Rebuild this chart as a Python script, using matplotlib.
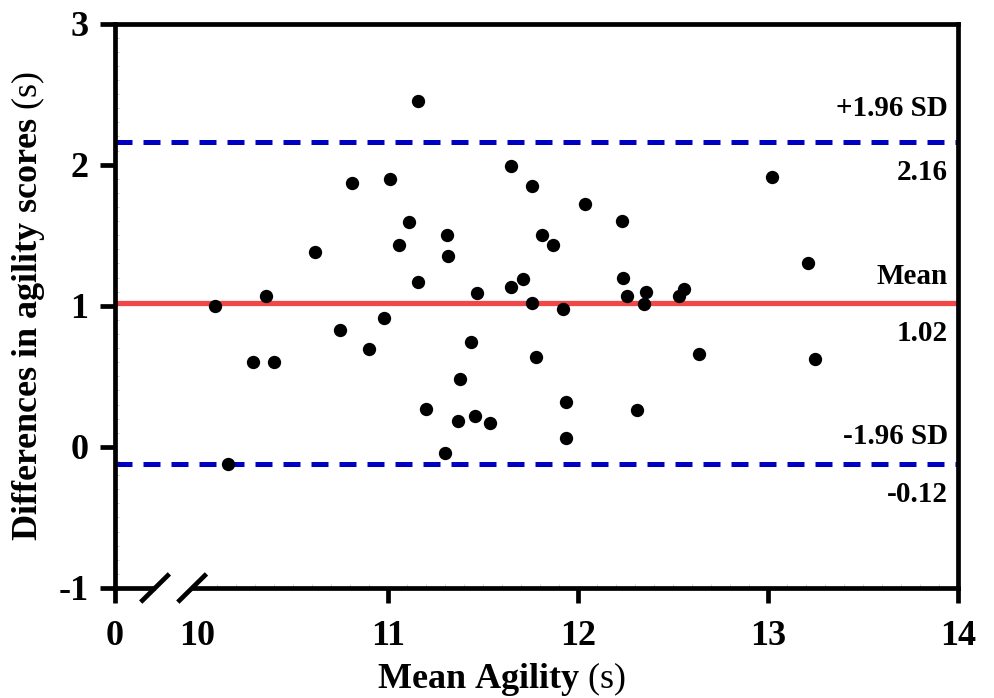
import numpy as np
import matplotlib
matplotlib.use("Agg")
import matplotlib.pyplot as plt
from matplotlib.ticker import FixedLocator, MultipleLocator
from matplotlib.lines import Line2D
from matplotlib.patches import Rectangle
import matplotlib.transforms as mtransforms

plt.rcParams['font.family'] = ['Liberation Serif', 'DejaVu Serif']
plt.rcParams['mathtext.fontset'] = 'custom'
plt.rcParams['mathtext.rm'] = 'Liberation Serif'

# ---- data ----
mean_agility = [11.16, 10.81, 11.01, 11.65, 11.76, 12.04, 11.11, 11.31, 11.06, 11.81,
                11.87, 10.62, 11.32, 11.16, 11.71, 11.65, 11.47, 10.36, 10.09, 11.76,
                11.92, 10.98, 10.75, 11.44, 10.90, 11.78, 10.29, 10.40, 11.38, 11.94,
                11.20, 11.46, 11.37, 11.54, 11.94, 11.30, 10.16,
                12.23, 12.24, 12.26, 12.36, 12.35, 12.56, 12.53, 12.64, 13.02, 13.21,
                13.25, 12.31]
differences = [2.45, 1.87, 1.90, 1.99, 1.85, 1.72, 1.59, 1.50, 1.43, 1.50,
               1.43, 1.38, 1.35, 1.17, 1.19, 1.13, 1.09, 1.07, 1.00, 1.02,
               0.98, 0.91, 0.83, 0.74, 0.69, 0.64, 0.60, 0.60, 0.48, 0.32,
               0.27, 0.22, 0.18, 0.17, 0.06, -0.04, -0.12,
               1.60, 1.20, 1.07, 1.10, 1.01, 1.12, 1.07, 0.66, 1.91, 1.30,
               0.62, 0.26]
bias = 1.02
upper_loa = 2.16
lower_loa = -0.12
x_ticks = [0, 10, 11, 12, 13, 14]
y_ticks = [-1, 0, 1, 2, 3]

# ---- broken x scale ----
R = 23.03
def fwd(x):
    x = np.asarray(x, dtype=float)
    return np.where(x <= 10, x, 10 + (x - 10) * R)
def inv(y):
    y = np.asarray(y, dtype=float)
    return np.where(y <= 10, y, 10 + (y - 10) / R)

W, H = 995, 698
fig = plt.figure(figsize=(W / 100, H / 100), dpi=100)
ax = fig.add_axes([115 / W, 1 - 588 / H, (958 - 115) / W, (588 - 23.5) / H])
ax.set_xscale('function', functions=(fwd, inv))
ax.set_xlim(0, 14)
ax.set_ylim(-1, 3)

ax.scatter(mean_agility, differences, s=92, color='black', zorder=3, linewidths=0)
ax.axhline(bias, color='#F04848', lw=3.8, zorder=2)
ax.axhline(upper_loa, color='#0000C0', lw=3.6, ls=(0, (3.4, 2.2)), zorder=2)
ax.axhline(lower_loa, color='#0000C0', lw=3.6, ls=(0, (3.4, 2.2)), zorder=2)

bold = dict(fontsize=21, fontweight='bold', ha='right', va='center')
tr = mtransforms.blended_transform_factory(ax.transAxes, ax.transData)
for val, top_txt, up_off in [(upper_loa, '+1.96 SD', 24), (bias, 'Mean', 19),
                             (lower_loa, '-1.96 SD', 20)]:
    ax.annotate(top_txt, xy=(0.988, val), xycoords=tr, xytext=(0, up_off),
                textcoords='offset points', **bold)
    ax.annotate(f'{val:.2f}', xy=(0.988, val), xycoords=tr, xytext=(0, -22),
                textcoords='offset points', **bold)

for s in ax.spines.values():
    s.set_linewidth(3.4)

ax.xaxis.set_major_locator(FixedLocator(x_ticks))
ax.yaxis.set_major_locator(FixedLocator(y_ticks))
ax.set_xticklabels([str(t) for t in x_ticks])
ax.set_yticklabels([str(t) for t in y_ticks])
ax.tick_params(axis='both', which='major', direction='out', length=11, width=3.4,
               labelsize=26)
ax.tick_params(axis='x', which='major', pad=12)
ax.tick_params(axis='y', which='major', pad=8)
for lab in ax.get_xticklabels() + ax.get_yticklabels():
    lab.set_fontweight('bold')
ax.xaxis.get_major_ticks()[1].tick1line.set_visible(False)

ax.yaxis.set_minor_locator(MultipleLocator(0.1))
ax.xaxis.set_minor_locator(FixedLocator(list(np.arange(10.1, 14.0, 0.1))))
ax.tick_params(axis='both', which='minor', direction='in', length=3, width=0.6,
               color='#c8c8c8')

ax.set_xlabel('Mean Agility $\\mathrm{(s)}$', fontsize=26, fontweight='bold')
ax.set_ylabel('Differences in agility scores $\\mathrm{(s)}$', fontsize=26,
              fontweight='bold', labelpad=8)
ax.xaxis.set_label_coords(0.458, -0.128)

# break marks on x-axis
ax.add_patch(Rectangle((0.049, -0.01), 0.042, 0.02, transform=ax.transAxes,
                       facecolor='white', edgecolor='none', clip_on=False, zorder=5))
for cx in (0.0475, 0.0915):
    ax.add_line(Line2D([cx - 0.017, cx + 0.017], [-0.025, 0.025], transform=ax.transAxes,
                       color='black', lw=3.4, clip_on=False, zorder=6,
                       solid_capstyle='butt'))

fig.savefig('out.png', dpi=100)
